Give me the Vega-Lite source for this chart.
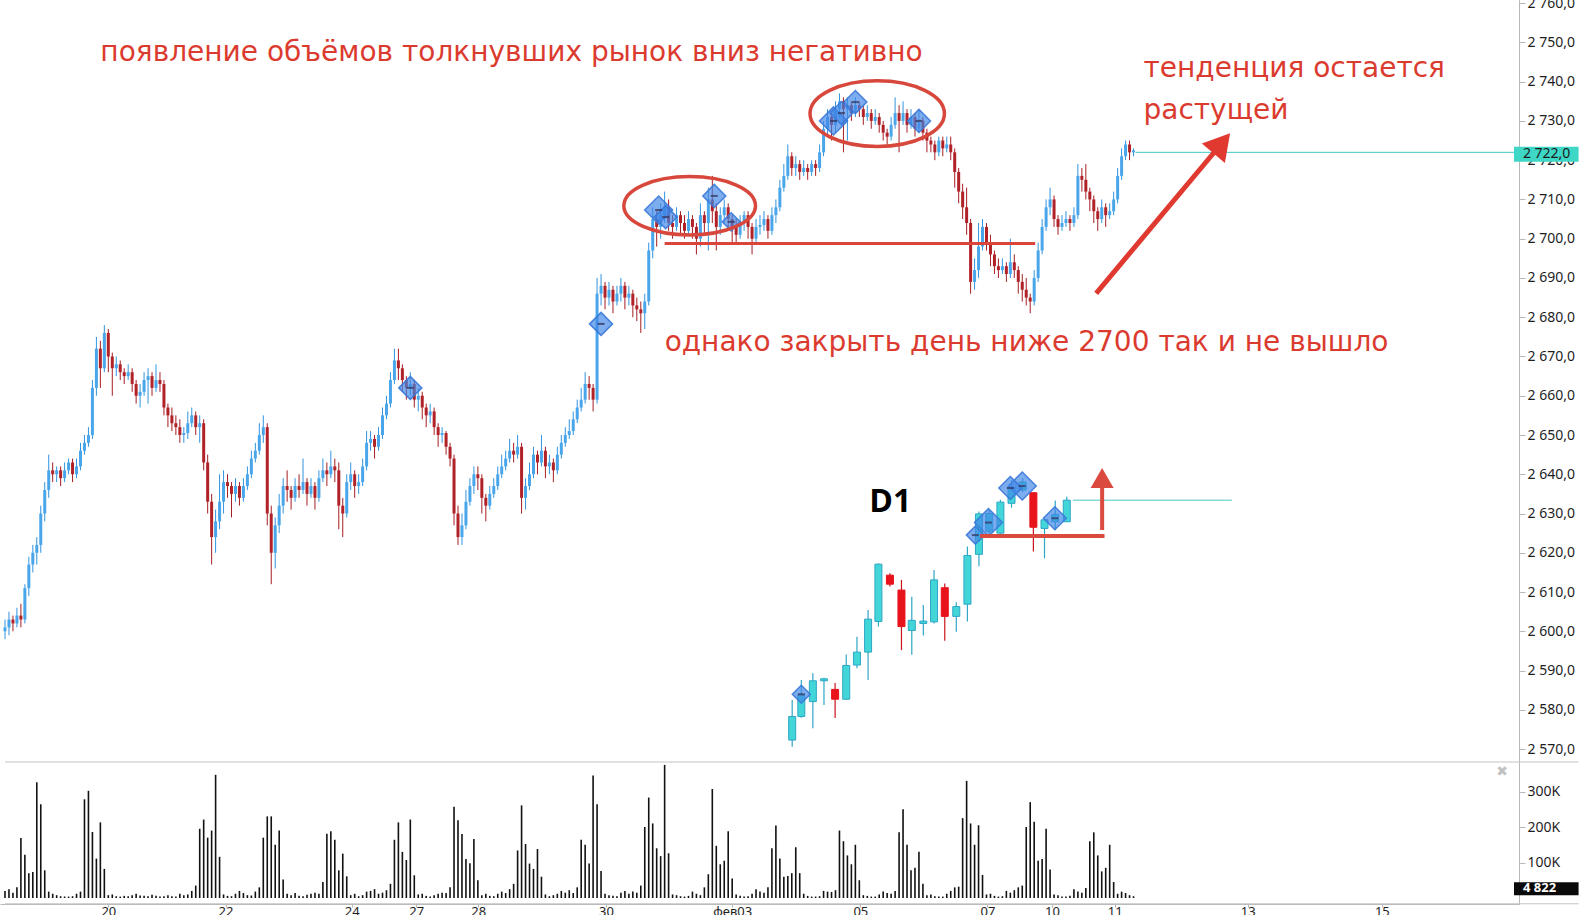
{
"$schema": "https://vega.github.io/schema/vega-lite/v6.json",
"width": 1519, "height": 904,
"autosize": {"type": "none"},
"padding": {"left": 0, "top": 0, "right": 64, "bottom": 11},
"background": "white",
"config": {"view": {"stroke": null}, "axis": {"grid": false, "domainColor": "#b8b8b8", "tickColor": "#b8b8b8", "labelColor": "#1e1e1e", "labelFont": "Noto Sans"}},
"datasets": {
"px": [
{"t":0,"o":2600,"h":2603,"l":2598,"c":2601,"v":20},
{"t":1,"o":2601,"h":2605,"l":2599,"c":2603,"v":25},
{"t":2,"o":2603,"h":2604,"l":2600,"c":2602,"v":15},
{"t":3,"o":2602,"h":2606,"l":2601,"c":2604,"v":30},
{"t":4,"o":2604,"h":2607,"l":2601,"c":2603,"v":169},
{"t":5,"o":2603,"h":2612,"l":2602,"c":2611,"v":122},
{"t":6,"o":2611,"h":2619,"l":2609,"c":2617,"v":70},
{"t":7,"o":2617,"h":2622,"l":2615,"c":2620,"v":73},
{"t":8,"o":2620,"h":2624,"l":2617,"c":2622,"v":326},
{"t":9,"o":2622,"h":2632,"l":2620,"c":2630,"v":264},
{"t":10,"o":2630,"h":2638,"l":2628,"c":2636,"v":78},
{"t":11,"o":2636,"h":2645,"l":2634,"c":2641,"v":18},
{"t":12,"o":2641,"h":2643,"l":2638,"c":2640,"v":12},
{"t":13,"o":2640,"h":2642,"l":2638,"c":2641,"v":8},
{"t":14,"o":2641,"h":2642,"l":2637,"c":2639,"v":5},
{"t":15,"o":2639,"h":2643,"l":2638,"c":2641,"v":4},
{"t":16,"o":2641,"h":2644,"l":2640,"c":2643,"v":4},
{"t":17,"o":2643,"h":2644,"l":2638,"c":2640,"v":5},
{"t":18,"o":2640,"h":2644,"l":2639,"c":2642,"v":12},
{"t":19,"o":2642,"h":2648,"l":2641,"c":2646,"v":18},
{"t":20,"o":2646,"h":2650,"l":2645,"c":2648,"v":278},
{"t":21,"o":2648,"h":2652,"l":2647,"c":2650,"v":302},
{"t":22,"o":2650,"h":2664,"l":2649,"c":2662,"v":186},
{"t":23,"o":2662,"h":2675,"l":2660,"c":2672,"v":111},
{"t":24,"o":2672,"h":2674,"l":2662,"c":2667,"v":213},
{"t":25,"o":2667,"h":2678,"l":2666,"c":2676,"v":82},
{"t":26,"o":2676,"h":2677,"l":2666,"c":2670,"v":8},
{"t":27,"o":2670,"h":2671,"l":2660,"c":2667,"v":10},
{"t":28,"o":2667,"h":2670,"l":2665,"c":2668,"v":5},
{"t":29,"o":2668,"h":2669,"l":2664,"c":2666,"v":4},
{"t":30,"o":2666,"h":2667,"l":2663,"c":2665,"v":6},
{"t":31,"o":2665,"h":2668,"l":2664,"c":2666,"v":5},
{"t":32,"o":2666,"h":2667,"l":2661,"c":2663,"v":8},
{"t":33,"o":2663,"h":2664,"l":2658,"c":2660,"v":12},
{"t":34,"o":2660,"h":2663,"l":2657,"c":2661,"v":7},
{"t":35,"o":2661,"h":2666,"l":2660,"c":2664,"v":6},
{"t":36,"o":2664,"h":2667,"l":2658,"c":2665,"v":5},
{"t":37,"o":2665,"h":2666,"l":2660,"c":2662,"v":9},
{"t":38,"o":2662,"h":2668,"l":2661,"c":2664,"v":6},
{"t":39,"o":2664,"h":2666,"l":2661,"c":2663,"v":4},
{"t":40,"o":2663,"h":2664,"l":2655,"c":2657,"v":5},
{"t":41,"o":2657,"h":2658,"l":2652,"c":2655,"v":8},
{"t":42,"o":2655,"h":2657,"l":2651,"c":2653,"v":5},
{"t":43,"o":2653,"h":2655,"l":2650,"c":2652,"v":4},
{"t":44,"o":2652,"h":2654,"l":2648,"c":2650,"v":12},
{"t":45,"o":2650,"h":2652,"l":2648,"c":2650.5,"v":8},
{"t":46,"o":2650.5,"h":2656,"l":2649,"c":2653,"v":10},
{"t":47,"o":2653,"h":2657,"l":2652,"c":2655,"v":20},
{"t":48,"o":2655,"h":2656,"l":2650,"c":2652,"v":35},
{"t":49,"o":2652,"h":2655,"l":2648,"c":2653,"v":195},
{"t":50,"o":2653,"h":2654,"l":2641,"c":2643,"v":221},
{"t":51,"o":2643,"h":2645,"l":2630,"c":2633,"v":170},
{"t":52,"o":2633,"h":2635,"l":2617,"c":2624,"v":190},
{"t":53,"o":2624,"h":2631,"l":2620,"c":2628,"v":347},
{"t":54,"o":2628,"h":2640,"l":2626,"c":2633,"v":116},
{"t":55,"o":2633,"h":2641,"l":2630,"c":2638,"v":10},
{"t":56,"o":2638,"h":2640,"l":2634,"c":2637,"v":6},
{"t":57,"o":2637,"h":2638,"l":2629,"c":2635,"v":5},
{"t":58,"o":2635,"h":2639,"l":2633,"c":2637,"v":12},
{"t":59,"o":2637,"h":2638,"l":2632,"c":2634,"v":20},
{"t":60,"o":2634,"h":2639,"l":2633,"c":2637,"v":14},
{"t":61,"o":2637,"h":2642,"l":2636,"c":2640,"v":8},
{"t":62,"o":2640,"h":2646,"l":2639,"c":2644,"v":7},
{"t":63,"o":2644,"h":2648,"l":2643,"c":2646,"v":18},
{"t":64,"o":2646,"h":2653,"l":2645,"c":2650,"v":30},
{"t":65,"o":2650,"h":2655,"l":2648,"c":2652,"v":170},
{"t":66,"o":2652,"h":2653,"l":2627,"c":2630,"v":230},
{"t":67,"o":2630,"h":2632,"l":2612,"c":2620,"v":230},
{"t":68,"o":2620,"h":2629,"l":2616,"c":2627,"v":150},
{"t":69,"o":2627,"h":2635,"l":2625,"c":2632,"v":190},
{"t":70,"o":2632,"h":2639,"l":2630,"c":2637,"v":52},
{"t":71,"o":2637,"h":2641,"l":2633,"c":2636,"v":12},
{"t":72,"o":2636,"h":2637,"l":2631,"c":2634,"v":8},
{"t":73,"o":2634,"h":2639,"l":2633,"c":2637,"v":14},
{"t":74,"o":2637,"h":2640,"l":2634,"c":2636,"v":6},
{"t":75,"o":2636,"h":2644,"l":2635,"c":2638,"v":5},
{"t":76,"o":2638,"h":2639,"l":2632,"c":2635,"v":9},
{"t":77,"o":2635,"h":2639,"l":2634,"c":2637,"v":12},
{"t":78,"o":2637,"h":2638,"l":2631,"c":2634,"v":15},
{"t":79,"o":2634,"h":2641,"l":2633,"c":2639,"v":12},
{"t":80,"o":2639,"h":2644,"l":2638,"c":2641,"v":45},
{"t":81,"o":2641,"h":2643,"l":2637,"c":2640,"v":181},
{"t":82,"o":2640,"h":2646,"l":2639,"c":2642,"v":188},
{"t":83,"o":2642,"h":2644,"l":2638,"c":2641,"v":164},
{"t":84,"o":2641,"h":2643,"l":2626,"c":2632,"v":78},
{"t":85,"o":2632,"h":2634,"l":2624,"c":2630,"v":125},
{"t":86,"o":2630,"h":2640,"l":2629,"c":2638,"v":61},
{"t":87,"o":2638,"h":2643,"l":2636,"c":2640,"v":8},
{"t":88,"o":2640,"h":2641,"l":2634,"c":2637,"v":12},
{"t":89,"o":2637,"h":2640,"l":2635,"c":2638,"v":5},
{"t":90,"o":2638,"h":2644,"l":2637,"c":2642,"v":8},
{"t":91,"o":2642,"h":2651,"l":2641,"c":2648,"v":18},
{"t":92,"o":2648,"h":2651,"l":2646,"c":2649,"v":20},
{"t":93,"o":2649,"h":2650,"l":2644,"c":2647,"v":25},
{"t":94,"o":2647,"h":2652,"l":2646,"c":2650,"v":12},
{"t":95,"o":2650,"h":2657,"l":2649,"c":2655,"v":15},
{"t":96,"o":2655,"h":2660,"l":2654,"c":2658,"v":22},
{"t":97,"o":2658,"h":2666,"l":2657,"c":2664,"v":40},
{"t":98,"o":2664,"h":2672,"l":2663,"c":2669,"v":164},
{"t":99,"o":2669,"h":2672,"l":2664,"c":2667,"v":213},
{"t":100,"o":2667,"h":2668,"l":2661,"c":2664,"v":130},
{"t":101,"o":2664,"h":2665,"l":2659,"c":2662,"v":107},
{"t":102,"o":2662,"h":2666,"l":2660,"c":2663,"v":221},
{"t":103,"o":2663,"h":2664,"l":2657,"c":2659,"v":64},
{"t":104,"o":2659,"h":2662,"l":2656,"c":2660,"v":10},
{"t":105,"o":2660,"h":2661,"l":2654,"c":2657,"v":12},
{"t":106,"o":2657,"h":2658,"l":2652,"c":2655,"v":6},
{"t":107,"o":2655,"h":2658,"l":2653,"c":2656,"v":4},
{"t":108,"o":2656,"h":2657,"l":2650,"c":2652,"v":8},
{"t":109,"o":2652,"h":2653,"l":2647,"c":2650,"v":12},
{"t":110,"o":2650,"h":2652,"l":2648,"c":2650.5,"v":15},
{"t":111,"o":2650.5,"h":2651,"l":2645,"c":2647,"v":14},
{"t":112,"o":2647,"h":2648,"l":2642,"c":2644,"v":30},
{"t":113,"o":2644,"h":2645,"l":2627,"c":2630,"v":257},
{"t":114,"o":2630,"h":2632,"l":2622,"c":2624,"v":219},
{"t":115,"o":2624,"h":2630,"l":2622,"c":2627,"v":180},
{"t":116,"o":2627,"h":2636,"l":2626,"c":2633,"v":110},
{"t":117,"o":2633,"h":2639,"l":2632,"c":2637,"v":98},
{"t":118,"o":2637,"h":2642,"l":2635,"c":2640,"v":166},
{"t":119,"o":2640,"h":2642,"l":2636,"c":2639,"v":50},
{"t":120,"o":2639,"h":2640,"l":2630,"c":2634,"v":8},
{"t":121,"o":2634,"h":2635,"l":2628,"c":2632,"v":12},
{"t":122,"o":2632,"h":2637,"l":2631,"c":2635,"v":6},
{"t":123,"o":2635,"h":2639,"l":2634,"c":2637,"v":5},
{"t":124,"o":2637,"h":2642,"l":2636,"c":2640,"v":12},
{"t":125,"o":2640,"h":2645,"l":2639,"c":2642,"v":18},
{"t":126,"o":2642,"h":2646,"l":2641,"c":2644,"v":14},
{"t":127,"o":2644,"h":2649,"l":2643,"c":2646,"v":25},
{"t":128,"o":2646,"h":2648,"l":2643,"c":2645,"v":40},
{"t":129,"o":2645,"h":2650,"l":2644,"c":2647,"v":134},
{"t":130,"o":2647,"h":2648,"l":2630,"c":2634,"v":261},
{"t":131,"o":2634,"h":2639,"l":2631,"c":2637,"v":152},
{"t":132,"o":2637,"h":2643,"l":2636,"c":2640,"v":97},
{"t":133,"o":2640,"h":2647,"l":2639,"c":2645,"v":82},
{"t":134,"o":2645,"h":2646,"l":2640,"c":2643,"v":138},
{"t":135,"o":2643,"h":2650,"l":2642,"c":2646,"v":60},
{"t":136,"o":2646,"h":2647,"l":2639,"c":2642,"v":10},
{"t":137,"o":2642,"h":2645,"l":2640,"c":2643,"v":5},
{"t":138,"o":2643,"h":2644,"l":2638,"c":2641,"v":8},
{"t":139,"o":2641,"h":2647,"l":2640,"c":2645,"v":12},
{"t":140,"o":2645,"h":2650,"l":2644,"c":2648,"v":20},
{"t":141,"o":2648,"h":2652,"l":2647,"c":2650,"v":15},
{"t":142,"o":2650,"h":2654,"l":2649,"c":2651,"v":22},
{"t":143,"o":2651,"h":2656,"l":2650,"c":2654,"v":14},
{"t":144,"o":2654,"h":2659,"l":2653,"c":2657,"v":30},
{"t":145,"o":2657,"h":2662,"l":2656,"c":2659,"v":164},
{"t":146,"o":2659,"h":2666,"l":2658,"c":2663,"v":150},
{"t":147,"o":2663,"h":2665,"l":2659,"c":2662,"v":97},
{"t":148,"o":2662,"h":2663,"l":2656,"c":2659,"v":345},
{"t":149,"o":2659,"h":2690,"l":2658,"c":2686,"v":264},
{"t":150,"o":2686,"h":2691,"l":2683,"c":2688,"v":76},
{"t":151,"o":2688,"h":2689,"l":2682,"c":2685,"v":12},
{"t":152,"o":2685,"h":2689,"l":2683,"c":2687,"v":8},
{"t":153,"o":2687,"h":2688,"l":2681,"c":2684,"v":6},
{"t":154,"o":2684,"h":2688,"l":2683,"c":2686,"v":5},
{"t":155,"o":2686,"h":2690,"l":2684,"c":2688,"v":15},
{"t":156,"o":2688,"h":2689,"l":2682,"c":2685,"v":20},
{"t":157,"o":2685,"h":2688,"l":2683,"c":2686,"v":12},
{"t":158,"o":2686,"h":2687,"l":2680,"c":2683,"v":18},
{"t":159,"o":2683,"h":2685,"l":2679,"c":2682,"v":15},
{"t":160,"o":2682,"h":2684,"l":2676,"c":2681,"v":35},
{"t":161,"o":2681,"h":2686,"l":2677,"c":2684,"v":200},
{"t":162,"o":2684,"h":2699,"l":2683,"c":2697,"v":283},
{"t":163,"o":2697,"h":2708,"l":2695,"c":2705,"v":210},
{"t":164,"o":2705,"h":2707,"l":2698,"c":2703,"v":140},
{"t":165,"o":2703,"h":2709,"l":2700,"c":2706,"v":118},
{"t":166,"o":2706,"h":2712,"l":2704,"c":2708,"v":375},
{"t":167,"o":2708,"h":2710,"l":2702,"c":2704,"v":126},
{"t":168,"o":2704,"h":2706,"l":2700,"c":2703,"v":10},
{"t":169,"o":2703,"h":2708,"l":2702,"c":2706,"v":8},
{"t":170,"o":2706,"h":2707,"l":2701,"c":2704,"v":5},
{"t":171,"o":2704,"h":2706,"l":2700,"c":2702,"v":4},
{"t":172,"o":2702,"h":2707,"l":2701,"c":2705,"v":6},
{"t":173,"o":2705,"h":2706,"l":2700,"c":2703,"v":18},
{"t":174,"o":2703,"h":2704,"l":2696,"c":2700,"v":12},
{"t":175,"o":2700,"h":2709,"l":2698,"c":2706,"v":8},
{"t":176,"o":2706,"h":2707,"l":2701,"c":2704,"v":30},
{"t":177,"o":2704,"h":2713,"l":2697,"c":2710,"v":67},
{"t":178,"o":2710,"h":2716,"l":2704,"c":2707,"v":307},
{"t":179,"o":2707,"h":2709,"l":2697,"c":2703,"v":147},
{"t":180,"o":2703,"h":2708,"l":2701,"c":2706,"v":95},
{"t":181,"o":2706,"h":2710,"l":2704,"c":2708,"v":105},
{"t":182,"o":2708,"h":2709,"l":2702,"c":2705,"v":188},
{"t":183,"o":2705,"h":2706,"l":2699,"c":2703,"v":55},
{"t":184,"o":2703,"h":2705,"l":2699,"c":2701,"v":10},
{"t":185,"o":2701,"h":2706,"l":2700,"c":2704,"v":6},
{"t":186,"o":2704,"h":2707,"l":2702,"c":2706,"v":4},
{"t":187,"o":2706,"h":2707,"l":2700,"c":2703,"v":5},
{"t":188,"o":2703,"h":2704,"l":2696,"c":2700,"v":12},
{"t":189,"o":2700,"h":2705,"l":2699,"c":2703,"v":25},
{"t":190,"o":2703,"h":2706,"l":2701,"c":2703.5,"v":18},
{"t":191,"o":2703.5,"h":2707,"l":2702,"c":2705,"v":15},
{"t":192,"o":2705,"h":2706,"l":2700,"c":2702,"v":30},
{"t":193,"o":2702,"h":2708,"l":2701,"c":2706,"v":140},
{"t":194,"o":2706,"h":2710,"l":2704,"c":2708,"v":204},
{"t":195,"o":2708,"h":2715,"l":2707,"c":2713,"v":111},
{"t":196,"o":2713,"h":2719,"l":2712,"c":2716,"v":60},
{"t":197,"o":2716,"h":2724,"l":2715,"c":2721,"v":62},
{"t":198,"o":2721,"h":2722,"l":2716,"c":2718,"v":70},
{"t":199,"o":2718,"h":2721,"l":2716,"c":2719,"v":143},
{"t":200,"o":2719,"h":2720,"l":2715,"c":2717,"v":70},
{"t":201,"o":2717,"h":2720,"l":2716,"c":2718,"v":12},
{"t":202,"o":2718,"h":2719,"l":2715,"c":2717,"v":6},
{"t":203,"o":2717,"h":2720,"l":2716,"c":2719,"v":4},
{"t":204,"o":2719,"h":2720,"l":2716,"c":2718,"v":4},
{"t":205,"o":2718,"h":2724,"l":2717,"c":2722,"v":5},
{"t":206,"o":2722,"h":2730,"l":2721,"c":2728,"v":20},
{"t":207,"o":2728,"h":2733,"l":2726,"c":2731,"v":18},
{"t":208,"o":2731,"h":2732,"l":2725,"c":2729,"v":17},
{"t":209,"o":2729,"h":2735,"l":2727,"c":2733,"v":22},
{"t":210,"o":2733,"h":2737,"l":2731,"c":2735,"v":190},
{"t":211,"o":2735,"h":2736,"l":2722,"c":2733,"v":160},
{"t":212,"o":2733,"h":2736,"l":2725,"c":2734,"v":120},
{"t":213,"o":2734,"h":2735,"l":2730,"c":2732,"v":95},
{"t":214,"o":2732,"h":2736,"l":2731,"c":2734,"v":150},
{"t":215,"o":2734,"h":2735,"l":2731,"c":2733,"v":50},
{"t":216,"o":2733,"h":2734,"l":2729,"c":2731,"v":8},
{"t":217,"o":2731,"h":2734,"l":2730,"c":2732,"v":6},
{"t":218,"o":2732,"h":2733,"l":2728,"c":2730,"v":4},
{"t":219,"o":2730,"h":2733,"l":2729,"c":2731,"v":4},
{"t":220,"o":2731,"h":2732,"l":2727,"c":2729,"v":10},
{"t":221,"o":2729,"h":2730,"l":2725,"c":2727,"v":18},
{"t":222,"o":2727,"h":2728,"l":2724,"c":2726,"v":14},
{"t":223,"o":2726,"h":2731,"l":2725,"c":2729,"v":12},
{"t":224,"o":2729,"h":2736,"l":2728,"c":2732,"v":20},
{"t":225,"o":2732,"h":2734,"l":2722,"c":2730,"v":185},
{"t":226,"o":2730,"h":2735,"l":2729,"c":2732,"v":250},
{"t":227,"o":2732,"h":2733,"l":2727,"c":2729,"v":150},
{"t":228,"o":2729,"h":2733,"l":2728,"c":2731,"v":78},
{"t":229,"o":2731,"h":2732,"l":2726,"c":2728,"v":85},
{"t":230,"o":2728,"h":2733,"l":2727,"c":2730,"v":130},
{"t":231,"o":2730,"h":2731,"l":2725,"c":2727,"v":40},
{"t":232,"o":2727,"h":2728,"l":2722,"c":2725,"v":8},
{"t":233,"o":2725,"h":2726,"l":2722,"c":2724,"v":10},
{"t":234,"o":2724,"h":2725,"l":2720,"c":2722,"v":5},
{"t":235,"o":2722,"h":2726,"l":2721,"c":2725,"v":4},
{"t":236,"o":2725,"h":2726,"l":2721,"c":2723,"v":4},
{"t":237,"o":2723,"h":2726,"l":2722,"c":2724,"v":12},
{"t":238,"o":2724,"h":2726,"l":2720,"c":2722,"v":20},
{"t":239,"o":2722,"h":2723,"l":2713,"c":2717,"v":30},
{"t":240,"o":2717,"h":2718,"l":2709,"c":2712,"v":32},
{"t":241,"o":2712,"h":2714,"l":2705,"c":2708,"v":225},
{"t":242,"o":2708,"h":2713,"l":2701,"c":2704,"v":330},
{"t":243,"o":2704,"h":2705,"l":2686,"c":2689,"v":210},
{"t":244,"o":2689,"h":2695,"l":2687,"c":2692,"v":150},
{"t":245,"o":2692,"h":2704,"l":2690,"c":2698,"v":205},
{"t":246,"o":2698,"h":2705,"l":2697,"c":2703,"v":65},
{"t":247,"o":2703,"h":2704,"l":2697,"c":2699,"v":10},
{"t":248,"o":2699,"h":2701,"l":2693,"c":2696,"v":12},
{"t":249,"o":2696,"h":2697,"l":2691,"c":2693,"v":6},
{"t":250,"o":2693,"h":2695,"l":2690,"c":2692,"v":4},
{"t":251,"o":2692,"h":2695,"l":2691,"c":2693,"v":5},
{"t":252,"o":2693,"h":2694,"l":2689,"c":2691,"v":20},
{"t":253,"o":2691,"h":2700,"l":2690,"c":2694,"v":15},
{"t":254,"o":2694,"h":2696,"l":2690,"c":2692,"v":22},
{"t":255,"o":2692,"h":2693,"l":2686,"c":2689,"v":30},
{"t":256,"o":2689,"h":2691,"l":2684,"c":2687,"v":35},
{"t":257,"o":2687,"h":2690,"l":2683,"c":2685,"v":200},
{"t":258,"o":2685,"h":2686,"l":2681,"c":2684,"v":270},
{"t":259,"o":2684,"h":2692,"l":2683,"c":2690,"v":215},
{"t":260,"o":2690,"h":2699,"l":2689,"c":2697,"v":105},
{"t":261,"o":2697,"h":2705,"l":2696,"c":2703,"v":110},
{"t":262,"o":2703,"h":2710,"l":2702,"c":2708,"v":195},
{"t":263,"o":2708,"h":2713,"l":2706,"c":2710,"v":80},
{"t":264,"o":2710,"h":2711,"l":2703,"c":2705,"v":10},
{"t":265,"o":2705,"h":2706,"l":2701,"c":2703,"v":8},
{"t":266,"o":2703,"h":2706,"l":2702,"c":2704,"v":4},
{"t":267,"o":2704,"h":2707,"l":2703,"c":2705,"v":4},
{"t":268,"o":2705,"h":2706,"l":2702,"c":2704,"v":6},
{"t":269,"o":2704,"h":2708,"l":2703,"c":2706,"v":25},
{"t":270,"o":2706,"h":2719,"l":2705,"c":2716,"v":18},
{"t":271,"o":2716,"h":2718,"l":2712,"c":2715,"v":15},
{"t":272,"o":2715,"h":2719,"l":2710,"c":2712,"v":28},
{"t":273,"o":2712,"h":2713,"l":2707,"c":2710,"v":160},
{"t":274,"o":2710,"h":2711,"l":2704,"c":2707,"v":185},
{"t":275,"o":2707,"h":2708,"l":2702,"c":2705,"v":120},
{"t":276,"o":2705,"h":2710,"l":2704,"c":2708,"v":75},
{"t":277,"o":2708,"h":2709,"l":2703,"c":2706,"v":85},
{"t":278,"o":2706,"h":2709,"l":2705,"c":2707,"v":150},
{"t":279,"o":2707,"h":2712,"l":2706,"c":2710,"v":45},
{"t":280,"o":2710,"h":2718,"l":2709,"c":2716,"v":12},
{"t":281,"o":2716,"h":2723,"l":2715,"c":2721,"v":18},
{"t":282,"o":2721,"h":2725,"l":2720,"c":2724,"v":14},
{"t":283,"o":2724,"h":2725,"l":2720,"c":2722,"v":8},
{"t":284,"o":2722,"h":2723,"l":2721,"c":2722.5,"v":5}
],
"d1": [
{"t":198.1,"o":2572.3,"h":2582.5,"l":2570.6,"c":2578.3},
{"t":200.4,"o":2578.3,"h":2587.6,"l":2578.0,"c":2583.8},
{"t":203.3,"o":2582.1,"h":2589.3,"l":2575.3,"c":2587.4},
{"t":206.1,"o":2587.4,"h":2588.2,"l":2581.2,"c":2587.9},
{"t":208.9,"o":2585.2,"h":2586.8,"l":2577.9,"c":2582.7},
{"t":211.7,"o":2582.7,"h":2594.1,"l":2582.5,"c":2591.3},
{"t":214.4,"o":2591.4,"h":2598.6,"l":2590.6,"c":2594.7},
{"t":217.2,"o":2594.7,"h":2605.4,"l":2587.6,"c":2603.1},
{"t":219.8,"o":2602.5,"h":2617.3,"l":2601.2,"c":2617.1},
{"t":222.7,"o":2614.3,"h":2614.8,"l":2611.4,"c":2612.0},
{"t":225.6,"o":2610.5,"h":2613.1,"l":2595.2,"c":2601.2},
{"t":228.2,"o":2600.2,"h":2608.8,"l":2594.0,"c":2602.8},
{"t":231.1,"o":2602.0,"h":2606.7,"l":2598.9,"c":2602.6},
{"t":233.8,"o":2602.4,"h":2615.6,"l":2602.0,"c":2613.1},
{"t":236.5,"o":2611.1,"h":2612.2,"l":2597.6,"c":2603.8},
{"t":239.4,"o":2603.8,"h":2607.4,"l":2599.9,"c":2606.3},
{"t":242.2,"o":2606.9,"h":2621.6,"l":2602.5,"c":2619.3},
{"t":245.1,"o":2619.6,"h":2630.5,"l":2616.6,"c":2629.9},
{"t":247.7,"o":2625.5,"h":2631.0,"l":2624.0,"c":2630.0},
{"t":250.5,"o":2625.0,"h":2633.5,"l":2624.8,"c":2632.9},
{"t":253.3,"o":2632.6,"h":2638.5,"l":2631.5,"c":2636.8},
{"t":256.1,"o":2636.0,"h":2639.0,"l":2635.5,"c":2638.0},
{"t":258.8,"o":2635.3,"h":2635.3,"l":2620.3,"c":2626.5},
{"t":261.6,"o":2626.2,"h":2628.4,"l":2618.6,"c":2628.4},
{"t":264.3,"o":2627.9,"h":2633.3,"l":2625.8,"c":2629.8},
{"t":267.2,"o":2627.9,"h":2634.3,"l":2627.9,"c":2633.4}
],
"dia": [
{"t":102,"p":2662.0,"sz":"mid"},
{"t":150,"p":2678.3,"sz":"mid"},
{"t":164.5,"p":2707.3,"sz":"big"},
{"t":166.25,"p":2705.5,"sz":"mid"},
{"t":178.5,"p":2710.9,"sz":"mid"},
{"t":182.75,"p":2704.3,"sz":"small"},
{"t":208.5,"p":2730.0,"sz":"big"},
{"t":210.5,"p":2732.0,"sz":"mid"},
{"t":214,"p":2734.8,"sz":"mid"},
{"t":230,"p":2730.0,"sz":"mid"},
{"t":200.4,"p":2583.95,"sz":"small"},
{"t":244.2,"p":2624.5,"sz":"small"},
{"t":247.5,"p":2627.7,"sz":"big"},
{"t":253,"p":2636.5,"sz":"mid"},
{"t":256,"p":2637.0,"sz":"big"},
{"t":264.2,"p":2628.8,"sz":"mid"}
],
"segs": [
{"kind":"frame","x1":0,"x2":396,"y1":2566.71,"y2":2566.71},
{"kind":"frame","x1":0,"x2":396,"y1":2530.6,"y2":2530.6},
{"kind":"last","x1":284.5,"x2":379.75,"y1":2722,"y2":2722},
{"kind":"last","x1":268.75,"x2":308.75,"y1":2633.4,"y2":2633.4},
{"kind":"level","x1":166,"x2":259.25,"y1":2698.8,"y2":2698.8},
{"kind":"d1level","x1":245.4,"x2":276.7,"y1":2624.3,"y2":2624.3},
{"kind":"arrow","x1":274.6,"x2":305,"y1":2686.1,"y2":2722.85},
{"kind":"d1arrow","x1":276.1,"x2":276.1,"y1":2625.8,"y2":2637.3}
],
"marks": [
{"kind":"e1","t":172.3,"p":2708.4},
{"kind":"e2","t":219.5,"p":2731.86},
{"kind":"arrow","t":306.2,"p":2724.3},
{"kind":"d1arrow","t":276.1,"p":2639.05}
],
"boxes": [
{"kind":"last","x1":379.75,"x2":396,"y1":2719.61,"y2":2723.43},
{"kind":"vol","x1":379.75,"x2":396,"y1":2532.8,"y2":2536.1}
],
"notes": [
{"kind":"red","t":24,"p":2747.4,"text":"появление объёмов толкнувших рынок вниз негативно"},
{"kind":"red","t":166,"p":2673.4,"text":"однако закрыть день ниже 2700 так и не вышло"},
{"kind":"red","t":286.5,"p":2743.2,"text":"тенденция остается"},
{"kind":"red","t":286.5,"p":2732.4,"text":"растущей"},
{"kind":"d1","t":217.5,"p":2632.9,"text":"D1"},
{"kind":"last","t":382,"p":2721.5,"text":"2 722,0"},
{"kind":"vol","t":382,"p":2534.5,"text":"4 822"},
{"kind":"close","t":376.75,"p":2564.2,"text":"✖"}
]
},
"resolve": {"scale": {"y": "independent"}},
"layer": [
{
"layer": [
{"data": {"name": "segs"}, "transform": [{"filter": "datum.kind == 'frame'"}],
 "mark": {"type": "rule", "color": "#c4c4c4", "strokeWidth": 1},
 "encoding": {"x": {"field": "x1", "type": "quantitative", "scale": {"domain": [0, 379.75], "nice": false, "zero": false}, "title": null},
  "x2": {"field": "x2"},
  "y": {"field": "y1", "type": "quantitative", "scale": {"domain": [2530.54, 2760.8], "nice": false, "zero": false}, "title": null},
  "y2": {"field": "y2"}}},
{"data": {"name": "segs"}, "transform": [{"filter": "datum.kind == 'last'"}],
 "mark": {"type": "rule", "color": "#45c9c4", "strokeWidth": 1},
 "encoding": {"x": {"field": "x1", "type": "quantitative", "scale": {"domain": [0, 379.75], "nice": false, "zero": false}, "title": null},
  "x2": {"field": "x2"},
  "y": {"field": "y1", "type": "quantitative", "scale": {"domain": [2530.54, 2760.8], "nice": false, "zero": false}, "title": null},
  "y2": {"field": "y2"}}},
{"data": {"name": "px"},
 "mark": {"type": "rule", "strokeWidth": 1},
 "encoding": {"x": {"field": "t", "type": "quantitative", "scale": {"domain": [0, 379.75], "nice": false, "zero": false}, "title": null},
  "y": {"field": "l", "type": "quantitative", "scale": {"domain": [2530.54, 2760.8], "nice": false, "zero": false}, "title": null,
   "axis": {"orient": "right", "values": [2570,2580,2590,2600,2610,2620,2630,2640,2650,2660,2670,2680,2690,2700,2710,2720,2730,2740,2750,2760],
    "labelExpr": "replace(replace(format(datum.value, ',.1f'), ',', ' '), '.', ',')", "tickSize": 6, "labelFontSize": 14, "labelPadding": 2, "offset": 0, "title": null}},
  "y2": {"field": "h"},
  "color": {"condition": {"test": "datum.c >= datum.o", "value": "#3194e0"}, "value": "#a61e24"}}},
{"data": {"name": "px"},
 "mark": {"type": "bar", "width": 3},
 "encoding": {"x": {"field": "t", "type": "quantitative", "scale": {"domain": [0, 379.75], "nice": false, "zero": false}, "title": null},
  "y": {"field": "o", "type": "quantitative", "scale": {"domain": [2530.54, 2760.8], "nice": false, "zero": false}, "title": null},
  "y2": {"field": "c"},
  "color": {"condition": {"test": "datum.c >= datum.o", "value": "#4aa6ea"}, "value": "#b02228"}}},
{"data": {"name": "d1"},
 "mark": {"type": "rule", "strokeWidth": 1.2},
 "encoding": {"x": {"field": "t", "type": "quantitative", "scale": {"domain": [0, 379.75], "nice": false, "zero": false}, "title": null},
  "y": {"field": "l", "type": "quantitative", "scale": {"domain": [2530.54, 2760.8], "nice": false, "zero": false}, "title": null},
  "y2": {"field": "h"},
  "color": {"condition": {"test": "datum.c >= datum.o", "value": "#2ea6c6"}, "value": "#c8141c"}}},
{"data": {"name": "d1"},
 "mark": {"type": "bar", "width": 7, "strokeWidth": 1},
 "encoding": {"x": {"field": "t", "type": "quantitative", "scale": {"domain": [0, 379.75], "nice": false, "zero": false}, "title": null},
  "y": {"field": "o", "type": "quantitative", "scale": {"domain": [2530.54, 2760.8], "nice": false, "zero": false}, "title": null},
  "y2": {"field": "c"},
  "fill": {"condition": {"test": "datum.c >= datum.o", "value": "#43d6d8"}, "value": "#e8131b"},
  "stroke": {"condition": {"test": "datum.c >= datum.o", "value": "#2ea6c6"}, "value": "#e8131b"}}},
{"data": {"name": "dia"}, "transform": [{"filter": "datum.sz == 'big'"}],
 "mark": {"type": "point", "shape": "diamond", "size": 784, "filled": true, "fill": "#3f86e6", "fillOpacity": 0.68, "stroke": "#3a78d8", "strokeWidth": 1.5, "strokeOpacity": 0.9},
 "encoding": {"x": {"field": "t", "type": "quantitative", "scale": {"domain": [0, 379.75], "nice": false, "zero": false}, "title": null},
  "y": {"field": "p", "type": "quantitative", "scale": {"domain": [2530.54, 2760.8], "nice": false, "zero": false}, "title": null}}},
{"data": {"name": "dia"}, "transform": [{"filter": "datum.sz == 'mid'"}],
 "mark": {"type": "point", "shape": "diamond", "size": 529, "filled": true, "fill": "#3f86e6", "fillOpacity": 0.68, "stroke": "#3a78d8", "strokeWidth": 1.5, "strokeOpacity": 0.9},
 "encoding": {"x": {"field": "t", "type": "quantitative", "scale": {"domain": [0, 379.75], "nice": false, "zero": false}, "title": null},
  "y": {"field": "p", "type": "quantitative", "scale": {"domain": [2530.54, 2760.8], "nice": false, "zero": false}, "title": null}}},
{"data": {"name": "dia"}, "transform": [{"filter": "datum.sz == 'small'"}],
 "mark": {"type": "point", "shape": "diamond", "size": 324, "filled": true, "fill": "#3f86e6", "fillOpacity": 0.68, "stroke": "#3a78d8", "strokeWidth": 1.5, "strokeOpacity": 0.9},
 "encoding": {"x": {"field": "t", "type": "quantitative", "scale": {"domain": [0, 379.75], "nice": false, "zero": false}, "title": null},
  "y": {"field": "p", "type": "quantitative", "scale": {"domain": [2530.54, 2760.8], "nice": false, "zero": false}, "title": null}}},
{"data": {"name": "dia"},
 "mark": {"type": "point", "shape": "stroke", "size": 49, "filled": false, "stroke": "#34345e", "strokeWidth": 2, "opacity": 0.75},
 "encoding": {"x": {"field": "t", "type": "quantitative", "scale": {"domain": [0, 379.75], "nice": false, "zero": false}, "title": null},
  "y": {"field": "p", "type": "quantitative", "scale": {"domain": [2530.54, 2760.8], "nice": false, "zero": false}, "title": null}}},
{"data": {"name": "segs"}, "transform": [{"filter": "datum.kind == 'level'"}],
 "mark": {"type": "rule", "color": "#d9453b", "strokeWidth": 3},
 "encoding": {"x": {"field": "x1", "type": "quantitative", "scale": {"domain": [0, 379.75], "nice": false, "zero": false}, "title": null},
  "x2": {"field": "x2"},
  "y": {"field": "y1", "type": "quantitative", "scale": {"domain": [2530.54, 2760.8], "nice": false, "zero": false}, "title": null},
  "y2": {"field": "y2"}}},
{"data": {"name": "segs"}, "transform": [{"filter": "datum.kind == 'd1level' || datum.kind == 'd1arrow'"}],
 "mark": {"type": "rule", "color": "#da4a3e", "strokeWidth": 4},
 "encoding": {"x": {"field": "x1", "type": "quantitative", "scale": {"domain": [0, 379.75], "nice": false, "zero": false}, "title": null},
  "x2": {"field": "x2"},
  "y": {"field": "y1", "type": "quantitative", "scale": {"domain": [2530.54, 2760.8], "nice": false, "zero": false}, "title": null},
  "y2": {"field": "y2"}}},
{"data": {"name": "segs"}, "transform": [{"filter": "datum.kind == 'arrow'"}],
 "mark": {"type": "rule", "color": "#e0392f", "strokeWidth": 5},
 "encoding": {"x": {"field": "x1", "type": "quantitative", "scale": {"domain": [0, 379.75], "nice": false, "zero": false}, "title": null},
  "x2": {"field": "x2"},
  "y": {"field": "y1", "type": "quantitative", "scale": {"domain": [2530.54, 2760.8], "nice": false, "zero": false}, "title": null},
  "y2": {"field": "y2"}}},
{"data": {"name": "marks"}, "transform": [{"filter": "datum.kind == 'e1'"}],
 "mark": {"type": "point", "shape": "M -1 0 A 1 0.443 0 0 1 1 0 A 1 0.443 0 0 1 -1 0 Z", "size": 17345, "filled": false, "stroke": "#d8473c", "strokeWidth": 3.5, "opacity": 1},
 "encoding": {"x": {"field": "t", "type": "quantitative", "scale": {"domain": [0, 379.75], "nice": false, "zero": false}, "title": null},
  "y": {"field": "p", "type": "quantitative", "scale": {"domain": [2530.54, 2760.8], "nice": false, "zero": false}, "title": null}}},
{"data": {"name": "marks"}, "transform": [{"filter": "datum.kind == 'e2'"}],
 "mark": {"type": "point", "shape": "M -1 0 A 1 0.488 0 0 1 1 0 A 1 0.488 0 0 1 -1 0 Z", "size": 18063, "filled": false, "stroke": "#d8473c", "strokeWidth": 3.5, "opacity": 1},
 "encoding": {"x": {"field": "t", "type": "quantitative", "scale": {"domain": [0, 379.75], "nice": false, "zero": false}, "title": null},
  "y": {"field": "p", "type": "quantitative", "scale": {"domain": [2530.54, 2760.8], "nice": false, "zero": false}, "title": null}}},
{"data": {"name": "marks"}, "transform": [{"filter": "datum.kind == 'arrow'"}],
 "mark": {"type": "point", "shape": "triangle-up", "size": 900, "filled": true, "color": "#e0392f", "opacity": 1, "angle": 40},
 "encoding": {"x": {"field": "t", "type": "quantitative", "scale": {"domain": [0, 379.75], "nice": false, "zero": false}, "title": null},
  "y": {"field": "p", "type": "quantitative", "scale": {"domain": [2530.54, 2760.8], "nice": false, "zero": false}, "title": null}}},
{"data": {"name": "marks"}, "transform": [{"filter": "datum.kind == 'd1arrow'"}],
 "mark": {"type": "point", "shape": "triangle-up", "size": 529, "filled": true, "color": "#da4a3e", "opacity": 1},
 "encoding": {"x": {"field": "t", "type": "quantitative", "scale": {"domain": [0, 379.75], "nice": false, "zero": false}, "title": null},
  "y": {"field": "p", "type": "quantitative", "scale": {"domain": [2530.54, 2760.8], "nice": false, "zero": false}, "title": null}}},
{"data": {"name": "boxes"}, "transform": [{"filter": "datum.kind == 'last'"}],
 "mark": {"type": "rect", "color": "#3ed6c5"},
 "encoding": {"x": {"field": "x1", "type": "quantitative", "scale": {"domain": [0, 379.75], "nice": false, "zero": false}, "title": null},
  "x2": {"field": "x2"},
  "y": {"field": "y1", "type": "quantitative", "scale": {"domain": [2530.54, 2760.8], "nice": false, "zero": false}, "title": null},
  "y2": {"field": "y2"}}},
{"data": {"name": "boxes"}, "transform": [{"filter": "datum.kind == 'vol'"}],
 "mark": {"type": "rect", "color": "#0a0a0a"},
 "encoding": {"x": {"field": "x1", "type": "quantitative", "scale": {"domain": [0, 379.75], "nice": false, "zero": false}, "title": null},
  "x2": {"field": "x2"},
  "y": {"field": "y1", "type": "quantitative", "scale": {"domain": [2530.54, 2760.8], "nice": false, "zero": false}, "title": null},
  "y2": {"field": "y2"}}},
{"data": {"name": "notes"}, "transform": [{"filter": "datum.kind == 'red'"}],
 "mark": {"type": "text", "align": "left", "baseline": "middle", "font": "DejaVu Sans", "fontSize": 28, "color": "#db3b2f"},
 "encoding": {"x": {"field": "t", "type": "quantitative", "scale": {"domain": [0, 379.75], "nice": false, "zero": false}, "title": null},
  "y": {"field": "p", "type": "quantitative", "scale": {"domain": [2530.54, 2760.8], "nice": false, "zero": false}, "title": null},
  "text": {"field": "text"}}},
{"data": {"name": "notes"}, "transform": [{"filter": "datum.kind == 'd1'"}],
 "mark": {"type": "text", "align": "left", "baseline": "middle", "font": "Open Sans", "fontWeight": "bold", "fontSize": 32, "color": "#000000"},
 "encoding": {"x": {"field": "t", "type": "quantitative", "scale": {"domain": [0, 379.75], "nice": false, "zero": false}, "title": null},
  "y": {"field": "p", "type": "quantitative", "scale": {"domain": [2530.54, 2760.8], "nice": false, "zero": false}, "title": null},
  "text": {"field": "text"}}},
{"data": {"name": "notes"}, "transform": [{"filter": "datum.kind == 'last'"}],
 "mark": {"type": "text", "align": "left", "baseline": "middle", "font": "Noto Sans", "fontSize": 14, "color": "#1a1a1a"},
 "encoding": {"x": {"field": "t", "type": "quantitative", "scale": {"domain": [0, 379.75], "nice": false, "zero": false}, "title": null},
  "y": {"field": "p", "type": "quantitative", "scale": {"domain": [2530.54, 2760.8], "nice": false, "zero": false}, "title": null},
  "text": {"field": "text"}}},
{"data": {"name": "notes"}, "transform": [{"filter": "datum.kind == 'vol'"}],
 "mark": {"type": "text", "align": "left", "baseline": "middle", "font": "Noto Sans", "fontWeight": "bold", "fontSize": 13, "color": "#ffffff"},
 "encoding": {"x": {"field": "t", "type": "quantitative", "scale": {"domain": [0, 379.75], "nice": false, "zero": false}, "title": null},
  "y": {"field": "p", "type": "quantitative", "scale": {"domain": [2530.54, 2760.8], "nice": false, "zero": false}, "title": null},
  "text": {"field": "text"}}},
{"data": {"name": "notes"}, "transform": [{"filter": "datum.kind == 'close'"}],
 "mark": {"type": "text", "align": "center", "baseline": "middle", "font": "DejaVu Sans", "fontSize": 14, "color": "#c2c2c2"},
 "encoding": {"x": {"field": "t", "type": "quantitative", "scale": {"domain": [0, 379.75], "nice": false, "zero": false}, "title": null},
  "y": {"field": "p", "type": "quantitative", "scale": {"domain": [2530.54, 2760.8], "nice": false, "zero": false}, "title": null},
  "text": {"field": "text"}}}
]
},
{
"layer": [
{"data": {"name": "px"},
 "mark": {"type": "bar", "width": 1.6, "color": "#111111"},
 "encoding": {"x": {"field": "t", "type": "quantitative", "scale": {"domain": [0, 379.75], "nice": false, "zero": false}, "title": null,
   "axis": {"orient": "bottom", "values": [26,55.5,87.25,103.5,119.1,151.25,183,215.25,247.25,263.5,279.25,312.75,346.5],
    "labelExpr": "['20','22','24','27','28','30','фев03','05','07','10','11','13','15'][indexof([26,55.5,87.25,103.5,119.1,151.25,183,215.25,247.25,263.5,279.25,312.75,346.5], datum.value)]",
    "tickSize": 3, "labelFontSize": 13, "labelPadding": -2, "labelFlush": false, "offset": 0, "title": null}},
  "y": {"field": "v", "type": "quantitative", "scale": {"domain": [-16.9, 2529.6], "nice": false, "zero": false}, "title": null,
   "axis": {"orient": "right", "values": [100, 200, 300], "labelExpr": "datum.value + 'K'", "tickSize": 6, "labelFontSize": 14, "labelPadding": 2, "offset": 0, "title": null}},
  "y2": {"datum": 0}}}
]
}
]
}
